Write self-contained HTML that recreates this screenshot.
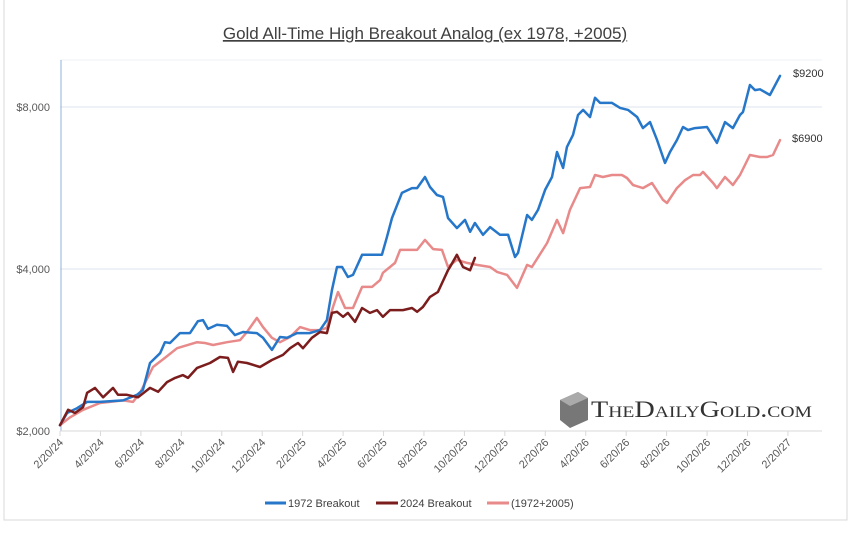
<!DOCTYPE html>
<html><head><meta charset="utf-8"><style>
body{margin:0;background:#fff;}
svg{display:block;font-family:"Liberation Sans",sans-serif;}
</style></head><body>
<svg id="chart" width="851" height="552" viewBox="0 0 851 552">
<rect x="4" y="-2" width="843" height="522" fill="#fff" stroke="#d9d9d9"/>
<text x="425" y="39" text-anchor="middle" font-size="17" fill="#404040" text-decoration="underline">Gold All-Time High Breakout Analog (ex 1978, +2005)</text>
<g id="grid"></g><g id="axes"></g><g id="series"></g>
<g>
<polygon points="560,400 578,392 588,398 588,420 570,428 560,420" fill="#777"/>
<polygon points="560,400 578,392 588,398 570,406" fill="#aaa"/>
<text x="591" y="417" font-family="Liberation Serif,serif" font-size="23" fill="#333" style="font-variant:small-caps" textLength="221" lengthAdjust="spacingAndGlyphs">TheDailyGold.com</text>
</g>
<text x="793" y="77" font-size="11" fill="#333">$9200</text>
<text x="792" y="142" font-size="11" fill="#333">$6900</text>
<g>
<line x1="265" y1="503" x2="286" y2="503" stroke="#2677c9" stroke-width="3"/>
<text x="288" y="507" font-size="11" fill="#404040">1972 Breakout</text>
<line x1="376" y1="503" x2="398" y2="503" stroke="#7b1d1d" stroke-width="3"/>
<text x="400" y="507" font-size="11" fill="#404040">2024 Breakout</text>
<line x1="487" y1="503" x2="509" y2="503" stroke="#e88a8a" stroke-width="3"/>
<text x="511" y="507" font-size="11" fill="#404040">(1972+2005)</text>
</g>
</svg>
<script>
const xTickLabels=["2/20/24","4/20/24","6/20/24","8/20/24","10/20/24","12/20/24","2/20/25","4/20/25","6/20/25","8/20/25","10/20/25","12/20/25","2/20/26","4/20/26","6/20/26","8/20/26","10/20/26","12/20/26","2/20/27"];
const yTicks=[2000,4000,8000];
const yTickLabels=["$2,000","$4,000","$8,000"];
const blueMonths=[0,.35,.84,1.34,1.98,3.12,3.81,4.1,4.45,4.95,5.19,5.44,5.93,6.43,6.82,7.07,7.32,7.76,8.26,8.65,9.05,9.74,10.04,10.48,10.88,11.23,11.72,12.36,12.86,13.2,13.45,13.7,13.95,14.24,14.49,14.94,15.92,16.17,16.42,16.91,17.41,17.66,18.05,18.3,18.64,18.94,19.19,19.63,20.03,20.28,20.52,20.92,21.27,21.76,22.16,22.5,22.65,23.1,23.34,23.64,23.99,24.33,24.58,24.88,25.07,25.37,25.62,25.87,26.21,26.46,26.71,27.3,27.7,28.09,28.54,28.83,29.18,29.53,29.92,30.17,30.51,30.81,31.06,31.4,32,32.49,32.89,33.28,33.63,33.78,34.12,34.37,34.62,35.11,35.61];
const blueValues=[2050,2160,2205,2265,2265,2280,2335,2385,2675,2790,2925,2915,3040,3040,3200,3215,3095,3150,3135,3015,3055,3040,2980,2830,2990,2980,3040,3040,3080,3215,3660,4035,4035,3865,3900,4250,4250,4590,4975,5540,5655,5655,5930,5680,5490,5445,4975,4765,4935,4690,4870,4630,4785,4630,4630,4210,4285,5040,4935,5150,5610,5930,6600,6165,6740,7100,7730,7900,7665,8320,8140,8140,7970,7900,7665,7310,7500,6945,6295,6600,6945,7345,7250,7310,7345,6860,7500,7310,7730,7830,8790,8600,8630,8420,9140];
const pinkMonths=[0,.49,1.14,1.98,3.12,3.61,3.96,4.6,5.19,5.79,6.78,7.17,7.57,8.26,8.9,9.25,9.74,10.04,10.48,10.88,11.38,11.87,12.36,12.86,13.2,13.5,13.75,14.1,14.49,14.94,15.43,15.83,15.97,16.32,16.57,16.82,17.66,18.05,18.45,18.89,19.19,19.63,20.13,20.62,21.27,21.61,22.11,22.6,23.1,23.34,24.09,24.58,24.88,25.22,25.72,26.21,26.46,26.85,27.3,27.79,28.04,28.34,28.83,29.28,29.82,30.02,30.51,30.91,31.31,31.65,31.8,32.3,32.49,32.89,33.28,33.63,34.12,34.62,34.97,35.26,35.61];
const pinkValues=[2050,2120,2190,2255,2280,2265,2355,2630,2735,2850,2925,2915,2890,2925,2950,3055,3245,3120,2980,2925,2990,3120,3080,3080,3110,3400,3625,3385,3385,3705,3705,3815,3935,4035,4105,4340,4340,4530,4355,4340,4035,4160,4105,4070,4035,3950,3900,3690,4070,4035,4470,4935,4665,5150,5655,5680,5980,5930,5980,5980,5905,5730,5655,5780,5375,5305,5655,5850,5980,5980,6060,5780,5655,5930,5730,5980,6515,6460,6460,6515,6945];
const redMonths=[0,.4,.74,1.14,1.34,1.73,2.13,2.62,2.87,3.31,3.86,4.45,4.85,5.29,5.69,6.08,6.33,6.78,7.42,7.91,8.31,8.56,8.8,9.25,9.89,10.48,11.03,11.38,11.77,12.02,12.46,12.86,13.2,13.45,13.7,14,14.24,14.59,14.94,15.33,15.68,15.97,16.32,16.96,17.41,17.66,17.95,18.3,18.69,19.19,19.29,19.63,19.93,20.28,20.52];
const redValues=[2050,2190,2160,2215,2355,2405,2310,2405,2335,2335,2310,2405,2365,2465,2510,2540,2510,2620,2675,2745,2735,2575,2690,2675,2630,2710,2770,2850,2915,2850,2980,3055,3040,3315,3330,3260,3315,3190,3385,3315,3355,3260,3355,3355,3385,3330,3400,3550,3625,3980,4035,4250,4035,3980,4195];

const NS="http://www.w3.org/2000/svg";
const X0=60,MW=20.22,Y0=431,PD=162,XR=822,YT=60;
function xs(m){return X0+m*MW;}
function ys(v){return Y0-PD*Math.log2(v/2000);}
function mk(tag,attrs,parent){const e=document.createElementNS(NS,tag);for(const k in attrs)e.setAttribute(k,attrs[k]);parent.appendChild(e);return e;}
const gridG=document.getElementById('grid'),axesG=document.getElementById('axes'),seriesG=document.getElementById('series');
yTicks.forEach((v,i)=>{
  if(i>0){const g=mk('line',{x1:X0,x2:XR,y1:ys(v),y2:ys(v),stroke:'#dde3ec','stroke-width':1},gridG);
  
  }
  const t=mk('text',{x:50,y:ys(v)+4,'text-anchor':'end','font-size':11,fill:'#595959'},axesG);
  t.textContent=yTickLabels[i];
  
  
});
const topLine=mk('line',{x1:X0,x2:XR,y1:YT,y2:YT,stroke:'#eef1f5'},gridG);


const yax=mk('line',{x1:X0+1,x2:X0+1,y1:YT,y2:Y0,stroke:'#8fb3de','stroke-width':1},axesG);


const xax=mk('line',{x1:X0,x2:XR,y1:Y0,y2:Y0,stroke:'#d9d9d9','stroke-width':1},axesG);


xTickLabels.forEach((lab,i)=>{
  const x=xs(i*2);
  const tk=mk('line',{x1:x,x2:x,y1:Y0,y2:Y0+5,stroke:'#d9d9d9'},axesG);
  
  
  const t=mk('text',{x:x+4,y:Y0+12,'text-anchor':'end','font-size':11,fill:'#595959',transform:`rotate(-45 ${x+4} ${Y0+12})`},axesG);
  t.textContent=lab;
  
  
});
function drawLine(ms,vs,color,name){
  const d=ms.map((m,i)=>(i?'L':'M')+xs(m).toFixed(1)+','+ys(vs[i]).toFixed(1)).join('');
  const p=mk('path',{d:d,fill:'none',stroke:color,'stroke-width':2.5,'stroke-linejoin':'round','stroke-linecap':'round'},seriesG);
  
  
}
drawLine(pinkMonths,pinkValues,'#e88a8a','series-1972-plus-2005');
drawLine(blueMonths,blueValues,'#2677c9','series-1972-breakout');
drawLine(redMonths,redValues,'#7b1d1d','series-2024-breakout');
</script>
</body></html>
